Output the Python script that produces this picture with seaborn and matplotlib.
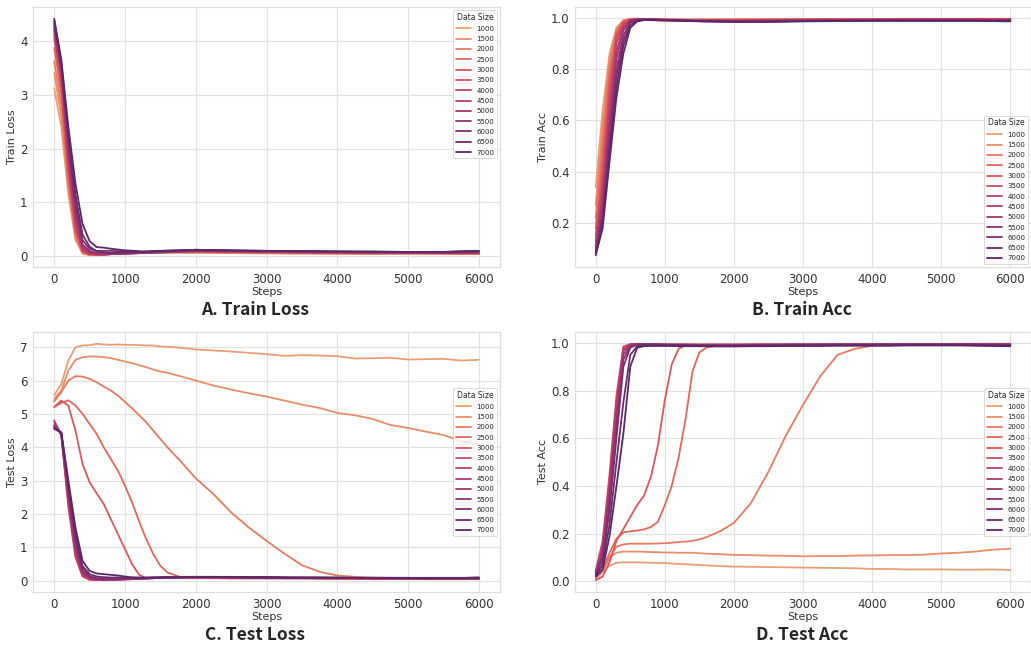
import pandas as pd
import seaborn as sns
import matplotlib.pyplot as plt

sizes = ['1000', '1500', '2000', '2500', '3000', '3500', '4000',
         '4500', '5000', '5500', '6000', '6500', '7000']

train_steps = [0, 100, 200, 300, 400, 500, 600, 700, 800, 1000, 1250, 1500,
               2000, 2500, 3000, 3500, 4000, 4500, 5000, 5500, 6000]
test_steps = [0, 100, 200, 300, 400, 500, 600, 700, 800, 900, 1000, 1100, 1200,
              1300, 1400, 1500, 1600, 1800, 2000, 2250, 2500, 2750, 3000, 3250,
              3500, 3750, 4000, 4250, 4500, 4750, 5000, 5250, 5500, 5750, 6000]

train_loss = {
    '1000': [3.12, 2.40, 1.15, 0.30, 0.05, 0.02, 0.02, 0.03, 0.04, 0.06, 0.08, 0.07, 0.06, 0.06, 0.05, 0.05, 0.05, 0.04, 0.05, 0.04, 0.04],
    '1500': [3.40, 2.60, 1.25, 0.35, 0.06, 0.02, 0.02, 0.03, 0.04, 0.07, 0.08, 0.07, 0.07, 0.06, 0.06, 0.05, 0.05, 0.05, 0.05, 0.05, 0.04],
    '2000': [3.62, 2.80, 1.35, 0.40, 0.07, 0.03, 0.02, 0.03, 0.05, 0.07, 0.07, 0.07, 0.08, 0.07, 0.06, 0.06, 0.05, 0.05, 0.05, 0.05, 0.05],
    '2500': [3.87, 3.00, 1.45, 0.45, 0.08, 0.03, 0.02, 0.03, 0.04, 0.06, 0.07, 0.08, 0.08, 0.07, 0.07, 0.06, 0.06, 0.05, 0.06, 0.05, 0.05],
    '3000': [4.05, 3.15, 1.55, 0.50, 0.09, 0.04, 0.03, 0.03, 0.04, 0.05, 0.07, 0.08, 0.09, 0.08, 0.07, 0.07, 0.06, 0.06, 0.06, 0.06, 0.05],
    '3500': [4.12, 3.25, 1.65, 0.55, 0.10, 0.04, 0.03, 0.03, 0.04, 0.05, 0.06, 0.08, 0.09, 0.08, 0.08, 0.07, 0.07, 0.06, 0.06, 0.06, 0.06],
    '4000': [4.18, 3.32, 1.75, 0.62, 0.12, 0.05, 0.03, 0.03, 0.04, 0.05, 0.06, 0.07, 0.09, 0.09, 0.08, 0.07, 0.07, 0.07, 0.06, 0.06, 0.06],
    '4500': [4.22, 3.40, 1.85, 0.70, 0.15, 0.06, 0.04, 0.04, 0.04, 0.05, 0.06, 0.07, 0.10, 0.09, 0.08, 0.08, 0.07, 0.07, 0.07, 0.06, 0.06],
    '5000': [4.26, 3.46, 1.95, 0.80, 0.18, 0.08, 0.05, 0.04, 0.05, 0.05, 0.06, 0.08, 0.10, 0.10, 0.09, 0.08, 0.08, 0.07, 0.07, 0.07, 0.07],
    '5500': [4.30, 3.52, 2.05, 0.90, 0.22, 0.10, 0.06, 0.05, 0.05, 0.06, 0.07, 0.08, 0.11, 0.10, 0.09, 0.09, 0.08, 0.08, 0.07, 0.07, 0.08],
    '6000': [4.33, 3.56, 2.15, 1.00, 0.30, 0.14, 0.10, 0.10, 0.10, 0.09, 0.08, 0.09, 0.11, 0.10, 0.10, 0.09, 0.08, 0.08, 0.08, 0.08, 0.09],
    '6500': [4.37, 3.60, 2.25, 1.15, 0.40, 0.18, 0.09, 0.07, 0.06, 0.07, 0.08, 0.10, 0.12, 0.11, 0.10, 0.09, 0.09, 0.08, 0.08, 0.08, 0.10],
    '7000': [4.41, 3.65, 2.40, 1.35, 0.60, 0.28, 0.17, 0.16, 0.14, 0.11, 0.09, 0.10, 0.12, 0.11, 0.10, 0.10, 0.09, 0.09, 0.08, 0.08, 0.10],
}

train_acc = {
    '1000': [0.34, 0.64, 0.86, 0.96, 0.990, 0.995, 0.995, 0.993, 0.990, 0.985, 0.990, 0.992, 0.993, 0.994, 0.994, 0.993, 0.994, 0.995, 0.995, 0.995, 0.995],
    '1500': [0.27, 0.58, 0.84, 0.955, 0.988, 0.994, 0.995, 0.994, 0.993, 0.990, 0.991, 0.992, 0.993, 0.993, 0.994, 0.994, 0.994, 0.995, 0.994, 0.995, 0.995],
    '2000': [0.22, 0.53, 0.81, 0.95, 0.987, 0.994, 0.995, 0.994, 0.993, 0.991, 0.992, 0.992, 0.992, 0.993, 0.993, 0.994, 0.994, 0.994, 0.994, 0.995, 0.994],
    '2500': [0.18, 0.47, 0.78, 0.94, 0.985, 0.993, 0.995, 0.994, 0.993, 0.992, 0.992, 0.991, 0.991, 0.992, 0.993, 0.993, 0.994, 0.993, 0.994, 0.994, 0.994],
    '3000': [0.15, 0.42, 0.74, 0.93, 0.980, 0.993, 0.994, 0.994, 0.993, 0.992, 0.991, 0.990, 0.990, 0.991, 0.992, 0.993, 0.993, 0.993, 0.993, 0.994, 0.993],
    '3500': [0.13, 0.37, 0.70, 0.92, 0.975, 0.992, 0.994, 0.994, 0.993, 0.992, 0.991, 0.990, 0.989, 0.990, 0.991, 0.992, 0.992, 0.993, 0.993, 0.993, 0.993],
    '4000': [0.12, 0.33, 0.66, 0.90, 0.970, 0.990, 0.994, 0.994, 0.993, 0.992, 0.990, 0.989, 0.988, 0.989, 0.990, 0.991, 0.992, 0.992, 0.993, 0.992, 0.992],
    '4500': [0.11, 0.30, 0.62, 0.87, 0.960, 0.990, 0.993, 0.993, 0.993, 0.991, 0.990, 0.988, 0.987, 0.988, 0.990, 0.991, 0.991, 0.992, 0.992, 0.992, 0.991],
    '5000': [0.10, 0.27, 0.58, 0.84, 0.950, 0.988, 0.993, 0.993, 0.992, 0.991, 0.989, 0.987, 0.986, 0.987, 0.989, 0.990, 0.991, 0.991, 0.991, 0.991, 0.990],
    '5500': [0.09, 0.24, 0.55, 0.80, 0.930, 0.985, 0.992, 0.993, 0.992, 0.990, 0.989, 0.987, 0.985, 0.986, 0.988, 0.989, 0.990, 0.990, 0.990, 0.990, 0.989],
    '6000': [0.085, 0.22, 0.51, 0.77, 0.910, 0.980, 0.990, 0.992, 0.992, 0.990, 0.988, 0.986, 0.984, 0.985, 0.987, 0.988, 0.989, 0.989, 0.989, 0.989, 0.988],
    '6500': [0.08, 0.20, 0.48, 0.73, 0.890, 0.970, 0.988, 0.991, 0.991, 0.990, 0.988, 0.986, 0.984, 0.984, 0.986, 0.987, 0.988, 0.988, 0.988, 0.988, 0.987],
    '7000': [0.075, 0.18, 0.44, 0.69, 0.860, 0.960, 0.985, 0.990, 0.990, 0.989, 0.987, 0.985, 0.983, 0.983, 0.985, 0.986, 0.987, 0.987, 0.987, 0.987, 0.985],
}

test_loss = {
    '1000': [5.56, 5.90, 6.60, 7.00, 7.05, 7.06, 7.10, 7.08, 7.07, 7.08, 7.07, 7.07, 7.06, 7.05, 7.05, 7.02, 7.01, 6.98, 6.93, 6.90, 6.87, 6.83, 6.79, 6.74, 6.76, 6.75, 6.73, 6.66, 6.67, 6.68, 6.63, 6.64, 6.65, 6.60, 6.62],
    '1500': [5.45, 5.70, 6.30, 6.62, 6.70, 6.72, 6.72, 6.70, 6.67, 6.62, 6.57, 6.52, 6.46, 6.40, 6.33, 6.27, 6.23, 6.12, 6.00, 5.85, 5.73, 5.62, 5.52, 5.40, 5.28, 5.18, 5.03, 4.96, 4.85, 4.67, 4.58, 4.47, 4.37, 4.18, 4.08],
    '2000': [5.38, 5.65, 6.00, 6.13, 6.12, 6.05, 5.95, 5.82, 5.70, 5.55, 5.36, 5.17, 4.96, 4.75, 4.50, 4.25, 4.00, 3.55, 3.07, 2.60, 2.05, 1.60, 1.20, 0.82, 0.47, 0.27, 0.16, 0.12, 0.10, 0.09, 0.08, 0.08, 0.07, 0.07, 0.06],
    '2500': [5.21, 5.33, 5.41, 5.25, 5.00, 4.70, 4.40, 4.00, 3.65, 3.30, 2.85, 2.35, 1.78, 1.25, 0.80, 0.45, 0.25, 0.10, 0.10, 0.10, 0.09, 0.09, 0.08, 0.08, 0.08, 0.08, 0.07, 0.07, 0.07, 0.07, 0.07, 0.06, 0.06, 0.06, 0.06],
    '3000': [5.21, 5.40, 5.25, 4.50, 3.50, 2.95, 2.62, 2.30, 1.85, 1.40, 0.95, 0.50, 0.18, 0.08, 0.08, 0.08, 0.08, 0.08, 0.08, 0.08, 0.07, 0.07, 0.07, 0.07, 0.07, 0.06, 0.06, 0.06, 0.06, 0.06, 0.06, 0.05, 0.05, 0.05, 0.05],
    '3500': [4.80, 4.35, 2.20, 0.70, 0.13, 0.03, 0.03, 0.03, 0.04, 0.05, 0.06, 0.07, 0.08, 0.09, 0.10, 0.10, 0.10, 0.10, 0.10, 0.10, 0.09, 0.09, 0.09, 0.08, 0.08, 0.08, 0.08, 0.07, 0.07, 0.07, 0.07, 0.07, 0.06, 0.06, 0.06],
    '4000': [4.78, 4.38, 2.35, 0.80, 0.16, 0.04, 0.03, 0.03, 0.03, 0.04, 0.05, 0.06, 0.07, 0.08, 0.09, 0.10, 0.11, 0.11, 0.11, 0.10, 0.10, 0.09, 0.09, 0.09, 0.08, 0.08, 0.08, 0.08, 0.07, 0.07, 0.07, 0.07, 0.07, 0.06, 0.06],
    '4500': [4.70, 4.40, 2.45, 0.90, 0.20, 0.06, 0.03, 0.02, 0.03, 0.03, 0.04, 0.05, 0.06, 0.07, 0.08, 0.09, 0.10, 0.11, 0.12, 0.11, 0.11, 0.10, 0.10, 0.09, 0.09, 0.08, 0.08, 0.08, 0.08, 0.07, 0.07, 0.07, 0.07, 0.07, 0.06],
    '5000': [4.65, 4.40, 2.55, 1.00, 0.25, 0.08, 0.05, 0.04, 0.04, 0.04, 0.05, 0.05, 0.06, 0.07, 0.08, 0.09, 0.10, 0.11, 0.11, 0.11, 0.10, 0.10, 0.10, 0.09, 0.09, 0.09, 0.08, 0.08, 0.08, 0.08, 0.07, 0.07, 0.07, 0.07, 0.07],
    '5500': [4.62, 4.42, 2.65, 1.10, 0.30, 0.10, 0.06, 0.05, 0.05, 0.05, 0.05, 0.06, 0.07, 0.07, 0.08, 0.09, 0.10, 0.10, 0.11, 0.11, 0.10, 0.10, 0.10, 0.09, 0.09, 0.09, 0.09, 0.08, 0.08, 0.08, 0.08, 0.07, 0.07, 0.07, 0.08],
    '6000': [4.60, 4.42, 2.75, 1.25, 0.38, 0.14, 0.08, 0.07, 0.08, 0.08, 0.08, 0.08, 0.08, 0.09, 0.09, 0.10, 0.10, 0.11, 0.11, 0.11, 0.11, 0.10, 0.10, 0.10, 0.09, 0.09, 0.09, 0.09, 0.08, 0.08, 0.08, 0.08, 0.08, 0.08, 0.09],
    '6500': [4.58, 4.44, 2.85, 1.40, 0.45, 0.20, 0.13, 0.11, 0.10, 0.10, 0.10, 0.10, 0.10, 0.10, 0.10, 0.10, 0.11, 0.11, 0.12, 0.12, 0.11, 0.11, 0.10, 0.10, 0.10, 0.10, 0.09, 0.09, 0.09, 0.09, 0.09, 0.08, 0.08, 0.08, 0.10],
    '7000': [4.55, 4.45, 3.00, 1.60, 0.60, 0.30, 0.22, 0.20, 0.18, 0.16, 0.13, 0.10, 0.09, 0.09, 0.10, 0.10, 0.11, 0.12, 0.12, 0.12, 0.12, 0.11, 0.11, 0.10, 0.10, 0.10, 0.10, 0.09, 0.09, 0.09, 0.09, 0.09, 0.09, 0.09, 0.10],
}

test_acc = {
    '1000': [0.020, 0.040, 0.065, 0.078, 0.080, 0.080, 0.080, 0.079, 0.078, 0.077, 0.077, 0.075, 0.073, 0.072, 0.070, 0.069, 0.067, 0.064, 0.062, 0.061, 0.060, 0.059, 0.058, 0.057, 0.056, 0.055, 0.052, 0.052, 0.050, 0.050, 0.050, 0.049, 0.049, 0.050, 0.048],
    '1500': [0.030, 0.060, 0.100, 0.120, 0.125, 0.125, 0.125, 0.124, 0.123, 0.122, 0.121, 0.121, 0.120, 0.120, 0.120, 0.118, 0.116, 0.114, 0.111, 0.110, 0.108, 0.107, 0.105, 0.106, 0.106, 0.108, 0.109, 0.110, 0.110, 0.112, 0.117, 0.120, 0.125, 0.133, 0.137],
    '2000': [0.010, 0.040, 0.100, 0.145, 0.155, 0.158, 0.158, 0.158, 0.158, 0.159, 0.160, 0.162, 0.165, 0.167, 0.170, 0.176, 0.185, 0.210, 0.245, 0.330, 0.460, 0.610, 0.740, 0.860, 0.950, 0.975, 0.988, 0.990, 0.991, 0.992, 0.993, 0.993, 0.994, 0.994, 0.995],
    '2500': [0.020, 0.050, 0.120, 0.180, 0.205, 0.210, 0.213, 0.218, 0.228, 0.250, 0.320, 0.400, 0.520, 0.680, 0.880, 0.960, 0.980, 0.990, 0.990, 0.991, 0.991, 0.992, 0.992, 0.992, 0.993, 0.993, 0.993, 0.993, 0.994, 0.994, 0.994, 0.994, 0.995, 0.995, 0.995],
    '3000': [0.005, 0.020, 0.080, 0.170, 0.220, 0.270, 0.320, 0.360, 0.440, 0.570, 0.760, 0.910, 0.975, 0.990, 0.992, 0.992, 0.993, 0.993, 0.993, 0.993, 0.994, 0.994, 0.994, 0.994, 0.994, 0.995, 0.995, 0.995, 0.995, 0.995, 0.995, 0.996, 0.996, 0.996, 0.996],
    '3500': [0.045, 0.17, 0.45, 0.78, 0.985, 0.995, 0.996, 0.995, 0.995, 0.995, 0.994, 0.994, 0.994, 0.994, 0.994, 0.993, 0.993, 0.993, 0.993, 0.993, 0.993, 0.994, 0.994, 0.994, 0.994, 0.994, 0.995, 0.995, 0.995, 0.995, 0.995, 0.995, 0.995, 0.996, 0.996],
    '4000': [0.040, 0.15, 0.42, 0.75, 0.975, 0.994, 0.995, 0.995, 0.994, 0.994, 0.993, 0.993, 0.993, 0.993, 0.992, 0.992, 0.992, 0.992, 0.992, 0.993, 0.993, 0.993, 0.993, 0.994, 0.994, 0.994, 0.994, 0.994, 0.994, 0.995, 0.995, 0.995, 0.995, 0.995, 0.995],
    '4500': [0.040, 0.14, 0.40, 0.72, 0.965, 0.993, 0.995, 0.994, 0.994, 0.993, 0.993, 0.992, 0.992, 0.992, 0.991, 0.991, 0.991, 0.991, 0.991, 0.992, 0.992, 0.992, 0.993, 0.993, 0.993, 0.993, 0.993, 0.994, 0.994, 0.994, 0.994, 0.994, 0.994, 0.994, 0.994],
    '5000': [0.035, 0.12, 0.37, 0.69, 0.950, 0.990, 0.994, 0.994, 0.993, 0.993, 0.992, 0.992, 0.991, 0.991, 0.991, 0.990, 0.990, 0.990, 0.990, 0.991, 0.991, 0.992, 0.992, 0.992, 0.992, 0.993, 0.993, 0.993, 0.993, 0.993, 0.993, 0.994, 0.994, 0.993, 0.993],
    '5500': [0.030, 0.11, 0.34, 0.65, 0.930, 0.985, 0.993, 0.993, 0.993, 0.992, 0.992, 0.991, 0.991, 0.990, 0.990, 0.990, 0.989, 0.989, 0.989, 0.990, 0.990, 0.991, 0.991, 0.991, 0.992, 0.992, 0.992, 0.992, 0.993, 0.993, 0.993, 0.993, 0.993, 0.992, 0.992],
    '6000': [0.030, 0.09, 0.30, 0.60, 0.900, 0.980, 0.992, 0.993, 0.992, 0.992, 0.991, 0.991, 0.990, 0.990, 0.989, 0.989, 0.989, 0.988, 0.988, 0.989, 0.989, 0.990, 0.990, 0.991, 0.991, 0.991, 0.991, 0.992, 0.992, 0.992, 0.992, 0.992, 0.992, 0.991, 0.991],
    '6500': [0.025, 0.07, 0.24, 0.50, 0.750, 0.950, 0.985, 0.990, 0.990, 0.990, 0.990, 0.989, 0.989, 0.989, 0.988, 0.988, 0.988, 0.987, 0.987, 0.988, 0.988, 0.989, 0.989, 0.989, 0.990, 0.990, 0.990, 0.990, 0.991, 0.991, 0.991, 0.991, 0.990, 0.989, 0.989],
    '7000': [0.020, 0.05, 0.19, 0.40, 0.620, 0.900, 0.980, 0.986, 0.987, 0.987, 0.987, 0.987, 0.986, 0.986, 0.986, 0.986, 0.986, 0.985, 0.985, 0.986, 0.986, 0.987, 0.987, 0.987, 0.988, 0.988, 0.988, 0.988, 0.989, 0.989, 0.989, 0.989, 0.988, 0.987, 0.986],
}

panel_titles = ['A. Train Loss', 'B. Train Acc', 'C. Test Loss', 'D. Test Acc']
y_labels = ['Train Loss', 'Train Acc', 'Test Loss', 'Test Acc']


def to_long(steps, curves, name):
    rows = []
    for size in sizes:
        for s, v in zip(steps, curves[size]):
            rows.append((s, v, size))
    return pd.DataFrame(rows, columns=['Steps', name, 'Data Size'])


sns.set_theme(style='whitegrid', rc={'grid.color': '#e2e2e2', 'axes.edgecolor': '#dedede',
                                     'grid.linewidth': 0.9, 'axes.linewidth': 0.9})
plt.rcParams['font.family'] = ['DejaVu Sans']
palette = dict(zip(sizes, sns.color_palette('flare', len(sizes))))

fig = plt.figure(figsize=(10.31, 6.48), dpi=100)
W, H = 1031, 648
# axes boxes in pixels: left, top, right, bottom
boxes = [(33, 7, 500, 267), (575, 7, 1031, 267),
         (33, 332, 500, 592), (575, 332, 1031, 592)]
panels = [(train_steps, train_loss), (train_steps, train_acc),
          (test_steps, test_loss), (test_steps, test_acc)]
legend_locs = ['upper right', 'lower right', 'center right', 'center right']
title_pos = [(255, 310), (802, 310), (255, 635), (802, 635)]

for i in range(4):
    l, t, r, b = boxes[i]
    ax = fig.add_axes([l / W, 1 - b / H, (r - l) / W, (b - t) / H])
    steps, curves = panels[i]
    df = to_long(steps, curves, y_labels[i])
    sns.lineplot(data=df, x='Steps', y=y_labels[i], hue='Data Size',
                 hue_order=sizes, palette=palette, linewidth=1.3, ax=ax)
    ax.tick_params(labelsize=8.5, length=0, pad=4, colors='#333333')
    ax.set_xlabel('Steps', fontsize=8, labelpad=1, color='#333333')
    ax.set_ylabel(y_labels[i], fontsize=8, labelpad=2, color='#333333')
    ax.set_xticks([0, 1000, 2000, 3000, 4000, 5000, 6000])
    leg = ax.legend(title='Data Size', loc=legend_locs[i], fontsize=5,
                    title_fontsize=5.5, borderaxespad=0.4, handlelength=2.2,
                    labelspacing=0.62, frameon=True)
    leg.get_frame().set_linewidth(0.6)
    tx, ty = title_pos[i]
    fig.text(tx / W, 1 - ty / H, panel_titles[i], ha='center', va='center',
             fontsize=12.5, fontweight='bold', family=['Noto Sans CJK SC', 'DejaVu Sans'])

fig.savefig('out.png', dpi=100)
